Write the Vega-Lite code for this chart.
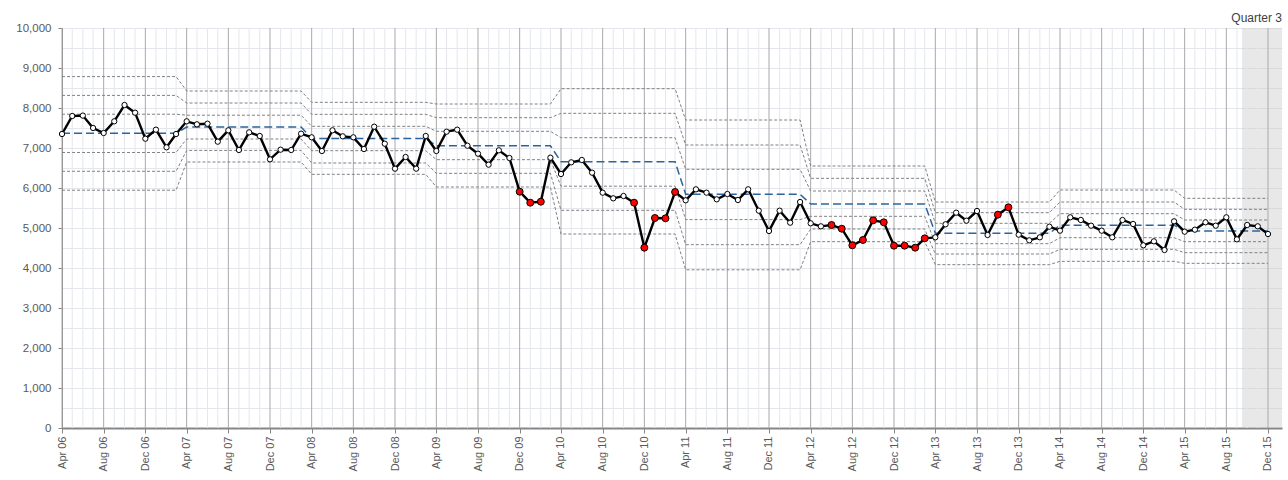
{
  "$schema": "https://vega.github.io/schema/vega-lite/v6.json",
  "autosize": {"type": "none"},
  "padding": {"left": 62, "top": 28, "right": 6, "bottom": 52},
  "width": 1220,
  "height": 400,
  "title": {"text": "Quarter 3", "anchor": "end", "fontSize": 12, "font": "Liberation Sans", "fontWeight": "normal", "color": "#404040", "offset": 5, "dy": 8},
  "config": {
    "view": {"stroke": null},
    "font": "Liberation Sans",
    "axis": {"labelFont": "Liberation Sans", "labelFontSize": 11, "labelColor": "#595959"}
  },
  "datasets": {
    "quarter": [{"date": "2015-09-16", "end": "2016-01-11", "label": "Quarter 3"}],
    "limits": [
      {"fy": "06/07", "mean": 7367, "u1": 7845, "u2": 8315, "u3": 8785, "l1": 6888, "l2": 6418, "l3": 5945},
      {"fy": "07/08", "mean": 7525, "u1": 7820, "u2": 8125, "u3": 8425, "l1": 7225, "l2": 6940, "l3": 6650},
      {"fy": "08/09", "mean": 7240, "u1": 7542, "u2": 7842, "u3": 8142, "l1": 6933, "l2": 6625, "l3": 6342},
      {"fy": "09/10", "mean": 7055, "u1": 7417, "u2": 7758, "u3": 8100, "l1": 6708, "l2": 6367, "l3": 6025},
      {"fy": "10/11", "mean": 6658, "u1": 7258, "u2": 7867, "u3": 8483, "l1": 6045, "l2": 5442, "l3": 4850},
      {"fy": "11/12", "mean": 5842, "u1": 6467, "u2": 7075, "u3": 7700, "l1": 5210, "l2": 4583, "l3": 3955},
      {"fy": "12/13", "mean": 5600, "u1": 5925, "u2": 6242, "u3": 6550, "l1": 5292, "l2": 4975, "l3": 4658},
      {"fy": "13/14", "mean": 4867, "u1": 5117, "u2": 5383, "u3": 5650, "l1": 4608, "l2": 4350, "l3": 4083},
      {"fy": "14/15", "mean": 5070, "u1": 5358, "u2": 5650, "u3": 5950, "l1": 4758, "l2": 4467, "l3": 4167},
      {"fy": "15/16", "mean": 4925, "u1": 5200, "u2": 5467, "u3": 5742, "l1": 4658, "l2": 4383, "l3": 4117}
    ],
    "months": [
      {"date": "2006-04-01", "value": 7350, "fy": "06/07", "flag": 0},
      {"date": "2006-05-01", "value": 7800, "fy": "06/07", "flag": 0},
      {"date": "2006-06-01", "value": 7810, "fy": "06/07", "flag": 0},
      {"date": "2006-07-01", "value": 7500, "fy": "06/07", "flag": 0},
      {"date": "2006-08-01", "value": 7375, "fy": "06/07", "flag": 0},
      {"date": "2006-09-01", "value": 7667, "fy": "06/07", "flag": 0},
      {"date": "2006-10-01", "value": 8075, "fy": "06/07", "flag": 0},
      {"date": "2006-11-01", "value": 7883, "fy": "06/07", "flag": 0},
      {"date": "2006-12-01", "value": 7233, "fy": "06/07", "flag": 0},
      {"date": "2007-01-01", "value": 7458, "fy": "06/07", "flag": 0},
      {"date": "2007-02-01", "value": 7017, "fy": "06/07", "flag": 0},
      {"date": "2007-03-01", "value": 7350, "fy": "06/07", "flag": 0},
      {"date": "2007-04-01", "value": 7667, "fy": "07/08", "flag": 0},
      {"date": "2007-05-01", "value": 7592, "fy": "07/08", "flag": 0},
      {"date": "2007-06-01", "value": 7608, "fy": "07/08", "flag": 0},
      {"date": "2007-07-01", "value": 7158, "fy": "07/08", "flag": 0},
      {"date": "2007-08-01", "value": 7442, "fy": "07/08", "flag": 0},
      {"date": "2007-09-01", "value": 6950, "fy": "07/08", "flag": 0},
      {"date": "2007-10-01", "value": 7392, "fy": "07/08", "flag": 0},
      {"date": "2007-11-01", "value": 7300, "fy": "07/08", "flag": 0},
      {"date": "2007-12-01", "value": 6717, "fy": "07/08", "flag": 0},
      {"date": "2008-01-01", "value": 6958, "fy": "07/08", "flag": 0},
      {"date": "2008-02-01", "value": 6950, "fy": "07/08", "flag": 0},
      {"date": "2008-03-01", "value": 7358, "fy": "07/08", "flag": 0},
      {"date": "2008-04-01", "value": 7267, "fy": "08/09", "flag": 0},
      {"date": "2008-05-01", "value": 6925, "fy": "08/09", "flag": 0},
      {"date": "2008-06-01", "value": 7442, "fy": "08/09", "flag": 0},
      {"date": "2008-07-01", "value": 7292, "fy": "08/09", "flag": 0},
      {"date": "2008-08-01", "value": 7267, "fy": "08/09", "flag": 0},
      {"date": "2008-09-01", "value": 6975, "fy": "08/09", "flag": 0},
      {"date": "2008-10-01", "value": 7533, "fy": "08/09", "flag": 0},
      {"date": "2008-11-01", "value": 7108, "fy": "08/09", "flag": 0},
      {"date": "2008-12-01", "value": 6483, "fy": "08/09", "flag": 0},
      {"date": "2009-01-01", "value": 6775, "fy": "08/09", "flag": 0},
      {"date": "2009-02-01", "value": 6483, "fy": "08/09", "flag": 0},
      {"date": "2009-03-01", "value": 7300, "fy": "08/09", "flag": 0},
      {"date": "2009-04-01", "value": 6925, "fy": "09/10", "flag": 0},
      {"date": "2009-05-01", "value": 7408, "fy": "09/10", "flag": 0},
      {"date": "2009-06-01", "value": 7458, "fy": "09/10", "flag": 0},
      {"date": "2009-07-01", "value": 7058, "fy": "09/10", "flag": 0},
      {"date": "2009-08-01", "value": 6858, "fy": "09/10", "flag": 0},
      {"date": "2009-09-01", "value": 6583, "fy": "09/10", "flag": 0},
      {"date": "2009-10-01", "value": 6942, "fy": "09/10", "flag": 0},
      {"date": "2009-11-01", "value": 6750, "fy": "09/10", "flag": 0},
      {"date": "2009-12-01", "value": 5908, "fy": "09/10", "flag": 1},
      {"date": "2010-01-01", "value": 5633, "fy": "09/10", "flag": 1},
      {"date": "2010-02-01", "value": 5658, "fy": "09/10", "flag": 1},
      {"date": "2010-03-01", "value": 6758, "fy": "09/10", "flag": 0},
      {"date": "2010-04-01", "value": 6350, "fy": "10/11", "flag": 0},
      {"date": "2010-05-01", "value": 6642, "fy": "10/11", "flag": 0},
      {"date": "2010-06-01", "value": 6700, "fy": "10/11", "flag": 0},
      {"date": "2010-07-01", "value": 6383, "fy": "10/11", "flag": 0},
      {"date": "2010-08-01", "value": 5883, "fy": "10/11", "flag": 0},
      {"date": "2010-09-01", "value": 5742, "fy": "10/11", "flag": 0},
      {"date": "2010-10-01", "value": 5800, "fy": "10/11", "flag": 0},
      {"date": "2010-11-01", "value": 5633, "fy": "10/11", "flag": 1},
      {"date": "2010-12-01", "value": 4508, "fy": "10/11", "flag": 1},
      {"date": "2011-01-01", "value": 5250, "fy": "10/11", "flag": 1},
      {"date": "2011-02-01", "value": 5242, "fy": "10/11", "flag": 1},
      {"date": "2011-03-01", "value": 5900, "fy": "10/11", "flag": 1},
      {"date": "2011-04-01", "value": 5692, "fy": "11/12", "flag": 0},
      {"date": "2011-05-01", "value": 5967, "fy": "11/12", "flag": 0},
      {"date": "2011-06-01", "value": 5883, "fy": "11/12", "flag": 0},
      {"date": "2011-07-01", "value": 5717, "fy": "11/12", "flag": 0},
      {"date": "2011-08-01", "value": 5850, "fy": "11/12", "flag": 0},
      {"date": "2011-09-01", "value": 5700, "fy": "11/12", "flag": 0},
      {"date": "2011-10-01", "value": 5967, "fy": "11/12", "flag": 0},
      {"date": "2011-11-01", "value": 5433, "fy": "11/12", "flag": 0},
      {"date": "2011-12-01", "value": 4925, "fy": "11/12", "flag": 0},
      {"date": "2012-01-01", "value": 5433, "fy": "11/12", "flag": 0},
      {"date": "2012-02-01", "value": 5133, "fy": "11/12", "flag": 0},
      {"date": "2012-03-01", "value": 5650, "fy": "11/12", "flag": 0},
      {"date": "2012-04-01", "value": 5117, "fy": "12/13", "flag": 0},
      {"date": "2012-05-01", "value": 5042, "fy": "12/13", "flag": 0},
      {"date": "2012-06-01", "value": 5075, "fy": "12/13", "flag": 1},
      {"date": "2012-07-01", "value": 4983, "fy": "12/13", "flag": 1},
      {"date": "2012-08-01", "value": 4567, "fy": "12/13", "flag": 1},
      {"date": "2012-09-01", "value": 4700, "fy": "12/13", "flag": 1},
      {"date": "2012-10-01", "value": 5192, "fy": "12/13", "flag": 1},
      {"date": "2012-11-01", "value": 5142, "fy": "12/13", "flag": 1},
      {"date": "2012-12-01", "value": 4558, "fy": "12/13", "flag": 1},
      {"date": "2013-01-01", "value": 4558, "fy": "12/13", "flag": 1},
      {"date": "2013-02-01", "value": 4508, "fy": "12/13", "flag": 1},
      {"date": "2013-03-01", "value": 4742, "fy": "12/13", "flag": 1},
      {"date": "2013-04-01", "value": 4767, "fy": "13/14", "flag": 0},
      {"date": "2013-05-01", "value": 5092, "fy": "13/14", "flag": 0},
      {"date": "2013-06-01", "value": 5383, "fy": "13/14", "flag": 0},
      {"date": "2013-07-01", "value": 5183, "fy": "13/14", "flag": 0},
      {"date": "2013-08-01", "value": 5425, "fy": "13/14", "flag": 0},
      {"date": "2013-09-01", "value": 4825, "fy": "13/14", "flag": 0},
      {"date": "2013-10-01", "value": 5333, "fy": "13/14", "flag": 1},
      {"date": "2013-11-01", "value": 5517, "fy": "13/14", "flag": 1},
      {"date": "2013-12-01", "value": 4833, "fy": "13/14", "flag": 0},
      {"date": "2014-01-01", "value": 4692, "fy": "13/14", "flag": 0},
      {"date": "2014-02-01", "value": 4767, "fy": "13/14", "flag": 0},
      {"date": "2014-03-01", "value": 5033, "fy": "13/14", "flag": 0},
      {"date": "2014-04-01", "value": 4933, "fy": "14/15", "flag": 0},
      {"date": "2014-05-01", "value": 5267, "fy": "14/15", "flag": 0},
      {"date": "2014-06-01", "value": 5200, "fy": "14/15", "flag": 0},
      {"date": "2014-07-01", "value": 5058, "fy": "14/15", "flag": 0},
      {"date": "2014-08-01", "value": 4933, "fy": "14/15", "flag": 0},
      {"date": "2014-09-01", "value": 4767, "fy": "14/15", "flag": 0},
      {"date": "2014-10-01", "value": 5200, "fy": "14/15", "flag": 0},
      {"date": "2014-11-01", "value": 5100, "fy": "14/15", "flag": 0},
      {"date": "2014-12-01", "value": 4567, "fy": "14/15", "flag": 0},
      {"date": "2015-01-01", "value": 4667, "fy": "14/15", "flag": 0},
      {"date": "2015-02-01", "value": 4450, "fy": "14/15", "flag": 0},
      {"date": "2015-03-01", "value": 5167, "fy": "14/15", "flag": 0},
      {"date": "2015-04-01", "value": 4908, "fy": "15/16", "flag": 0},
      {"date": "2015-05-01", "value": 4958, "fy": "15/16", "flag": 0},
      {"date": "2015-06-01", "value": 5142, "fy": "15/16", "flag": 0},
      {"date": "2015-07-01", "value": 5058, "fy": "15/16", "flag": 0},
      {"date": "2015-08-01", "value": 5267, "fy": "15/16", "flag": 0},
      {"date": "2015-09-01", "value": 4717, "fy": "15/16", "flag": 0},
      {"date": "2015-10-01", "value": 5075, "fy": "15/16", "flag": 0},
      {"date": "2015-11-01", "value": 5042, "fy": "15/16", "flag": 0},
      {"date": "2015-12-01", "value": 4850, "fy": "15/16", "flag": 0}
    ]
  },
  "encoding": {
    "x": {
      "field": "date",
      "type": "temporal",
      "scale": {"type": "utc", "nice": false, "domain": [{"year": 2006, "month": 4, "date": 1, "utc": true}, {"year": 2016, "month": 1, "date": 11, "utc": true}]},
      "axis": {
        "title": null,
        "grid": false,
        "format": "%b %y",
        "labelAngle": -90,
        "labelPadding": 3,
        "labelFontSize": 11,
        "labelColor": "#595959",
        "domainColor": "#868686",
        "domainWidth": 2,
        "tickColor": "#868686",
        "tickSize": 5,
        "labelOverlap": false,
        "values": [
          {"year": 2006, "month": 4, "date": 1, "utc": true}, {"year": 2006, "month": 8, "date": 1, "utc": true}, {"year": 2006, "month": 12, "date": 1, "utc": true},
          {"year": 2007, "month": 4, "date": 1, "utc": true}, {"year": 2007, "month": 8, "date": 1, "utc": true}, {"year": 2007, "month": 12, "date": 1, "utc": true},
          {"year": 2008, "month": 4, "date": 1, "utc": true}, {"year": 2008, "month": 8, "date": 1, "utc": true}, {"year": 2008, "month": 12, "date": 1, "utc": true},
          {"year": 2009, "month": 4, "date": 1, "utc": true}, {"year": 2009, "month": 8, "date": 1, "utc": true}, {"year": 2009, "month": 12, "date": 1, "utc": true},
          {"year": 2010, "month": 4, "date": 1, "utc": true}, {"year": 2010, "month": 8, "date": 1, "utc": true}, {"year": 2010, "month": 12, "date": 1, "utc": true},
          {"year": 2011, "month": 4, "date": 1, "utc": true}, {"year": 2011, "month": 8, "date": 1, "utc": true}, {"year": 2011, "month": 12, "date": 1, "utc": true},
          {"year": 2012, "month": 4, "date": 1, "utc": true}, {"year": 2012, "month": 8, "date": 1, "utc": true}, {"year": 2012, "month": 12, "date": 1, "utc": true},
          {"year": 2013, "month": 4, "date": 1, "utc": true}, {"year": 2013, "month": 8, "date": 1, "utc": true}, {"year": 2013, "month": 12, "date": 1, "utc": true},
          {"year": 2014, "month": 4, "date": 1, "utc": true}, {"year": 2014, "month": 8, "date": 1, "utc": true}, {"year": 2014, "month": 12, "date": 1, "utc": true},
          {"year": 2015, "month": 4, "date": 1, "utc": true}, {"year": 2015, "month": 8, "date": 1, "utc": true}, {"year": 2015, "month": 12, "date": 1, "utc": true}
        ]
      }
    }
  },
  "layer": [
    {
      "data": {"name": "quarter"},
      "mark": {"type": "rect", "color": "#c8c8c8", "opacity": 0.42},
      "encoding": {"x2": {"field": "end"}}
    },
    {
      "data": {"name": "months"},
      "mark": {"type": "rule", "strokeWidth": 1},
      "encoding": {
        "color": {"condition": {"test": "utcmonth(datum.date) % 4 === 3", "value": "#a9a9a9"}, "value": "#e4e7ec"}
      }
    },
    {
      "data": {"name": "months"},
      "transform": [
        {"lookup": "fy", "from": {"data": {"name": "limits"}, "key": "fy", "fields": ["u3", "u2", "u1", "l1", "l2", "l3"]}},
        {"fold": ["u3", "u2", "u1", "l1", "l2", "l3"], "as": ["limit", "level"]}
      ],
      "mark": {"type": "line", "color": "#808080", "strokeWidth": 1, "strokeDash": [3, 2]},
      "encoding": {
        "y": {
          "field": "level", "type": "quantitative",
          "scale": {"domain": [0, 10000], "nice": false, "zero": true},
          "axis": {
            "title": null,
            "values": [0, 500, 1000, 1500, 2000, 2500, 3000, 3500, 4000, 4500, 5000, 5500, 6000, 6500, 7000, 7500, 8000, 8500, 9000, 9500, 10000],
            "format": ",d",
            "labelExpr": "datum.value % 1000 === 0 ? datum.label : ''",
            "grid": true, "gridColor": "#e3e7ec", "gridWidth": 1,
            "domainColor": "#868686", "domainWidth": 1,
            "tickColor": "#868686", "tickSize": 4,
            "tickOpacity": {"condition": {"test": "datum.value % 1000 === 0", "value": 1}, "value": 0},
            "labelPadding": 7, "labelFontSize": 11.5, "labelColor": "#595959"
          }
        },
        "detail": {"field": "limit"}
      }
    },
    {
      "data": {"name": "months"},
      "transform": [
        {"lookup": "fy", "from": {"data": {"name": "limits"}, "key": "fy", "fields": ["mean"]}}
      ],
      "mark": {"type": "line", "color": "#2a64a0", "strokeWidth": 1.5, "strokeDash": [8, 4]},
      "encoding": {
        "y": {
          "field": "mean", "type": "quantitative",
          "axis": {
            "title": null,
            "values": [0, 500, 1000, 1500, 2000, 2500, 3000, 3500, 4000, 4500, 5000, 5500, 6000, 6500, 7000, 7500, 8000, 8500, 9000, 9500, 10000],
            "format": ",d",
            "labelExpr": "datum.value % 1000 === 0 ? datum.label : ''",
            "grid": true, "gridColor": "#e3e7ec", "gridWidth": 1,
            "domainColor": "#868686", "domainWidth": 1,
            "tickColor": "#868686", "tickSize": 4,
            "tickOpacity": {"condition": {"test": "datum.value % 1000 === 0", "value": 1}, "value": 0},
            "labelPadding": 7, "labelFontSize": 11.5, "labelColor": "#595959"
          }
        }
      }
    },
    {
      "data": {"name": "months"},
      "mark": {"type": "line", "color": "#000000", "strokeWidth": 2.4},
      "encoding": {
        "y": {
          "field": "value", "type": "quantitative",
          "axis": {
            "title": null,
            "values": [0, 500, 1000, 1500, 2000, 2500, 3000, 3500, 4000, 4500, 5000, 5500, 6000, 6500, 7000, 7500, 8000, 8500, 9000, 9500, 10000],
            "format": ",d",
            "labelExpr": "datum.value % 1000 === 0 ? datum.label : ''",
            "grid": true, "gridColor": "#e3e7ec", "gridWidth": 1,
            "domainColor": "#868686", "domainWidth": 1,
            "tickColor": "#868686", "tickSize": 4,
            "tickOpacity": {"condition": {"test": "datum.value % 1000 === 0", "value": 1}, "value": 0},
            "labelPadding": 7, "labelFontSize": 11.5, "labelColor": "#595959"
          }
        }
      }
    },
    {
      "data": {"name": "months"},
      "mark": {"type": "point", "filled": true, "stroke": "#000000", "strokeWidth": 1, "opacity": 1},
      "encoding": {
        "y": {
          "field": "value", "type": "quantitative",
          "axis": {
            "title": null,
            "values": [0, 500, 1000, 1500, 2000, 2500, 3000, 3500, 4000, 4500, 5000, 5500, 6000, 6500, 7000, 7500, 8000, 8500, 9000, 9500, 10000],
            "format": ",d",
            "labelExpr": "datum.value % 1000 === 0 ? datum.label : ''",
            "grid": true, "gridColor": "#e3e7ec", "gridWidth": 1,
            "domainColor": "#868686", "domainWidth": 1,
            "tickColor": "#868686", "tickSize": 4,
            "tickOpacity": {"condition": {"test": "datum.value % 1000 === 0", "value": 1}, "value": 0},
            "labelPadding": 7, "labelFontSize": 11.5, "labelColor": "#595959"
          }
        },
        "fill": {"condition": {"test": "datum.flag === 1", "value": "#ff0000"}, "value": "#ffffff"},
        "size": {"condition": {"test": "datum.flag === 1", "value": 48}, "value": 28}
      }
    }
  ]
}
